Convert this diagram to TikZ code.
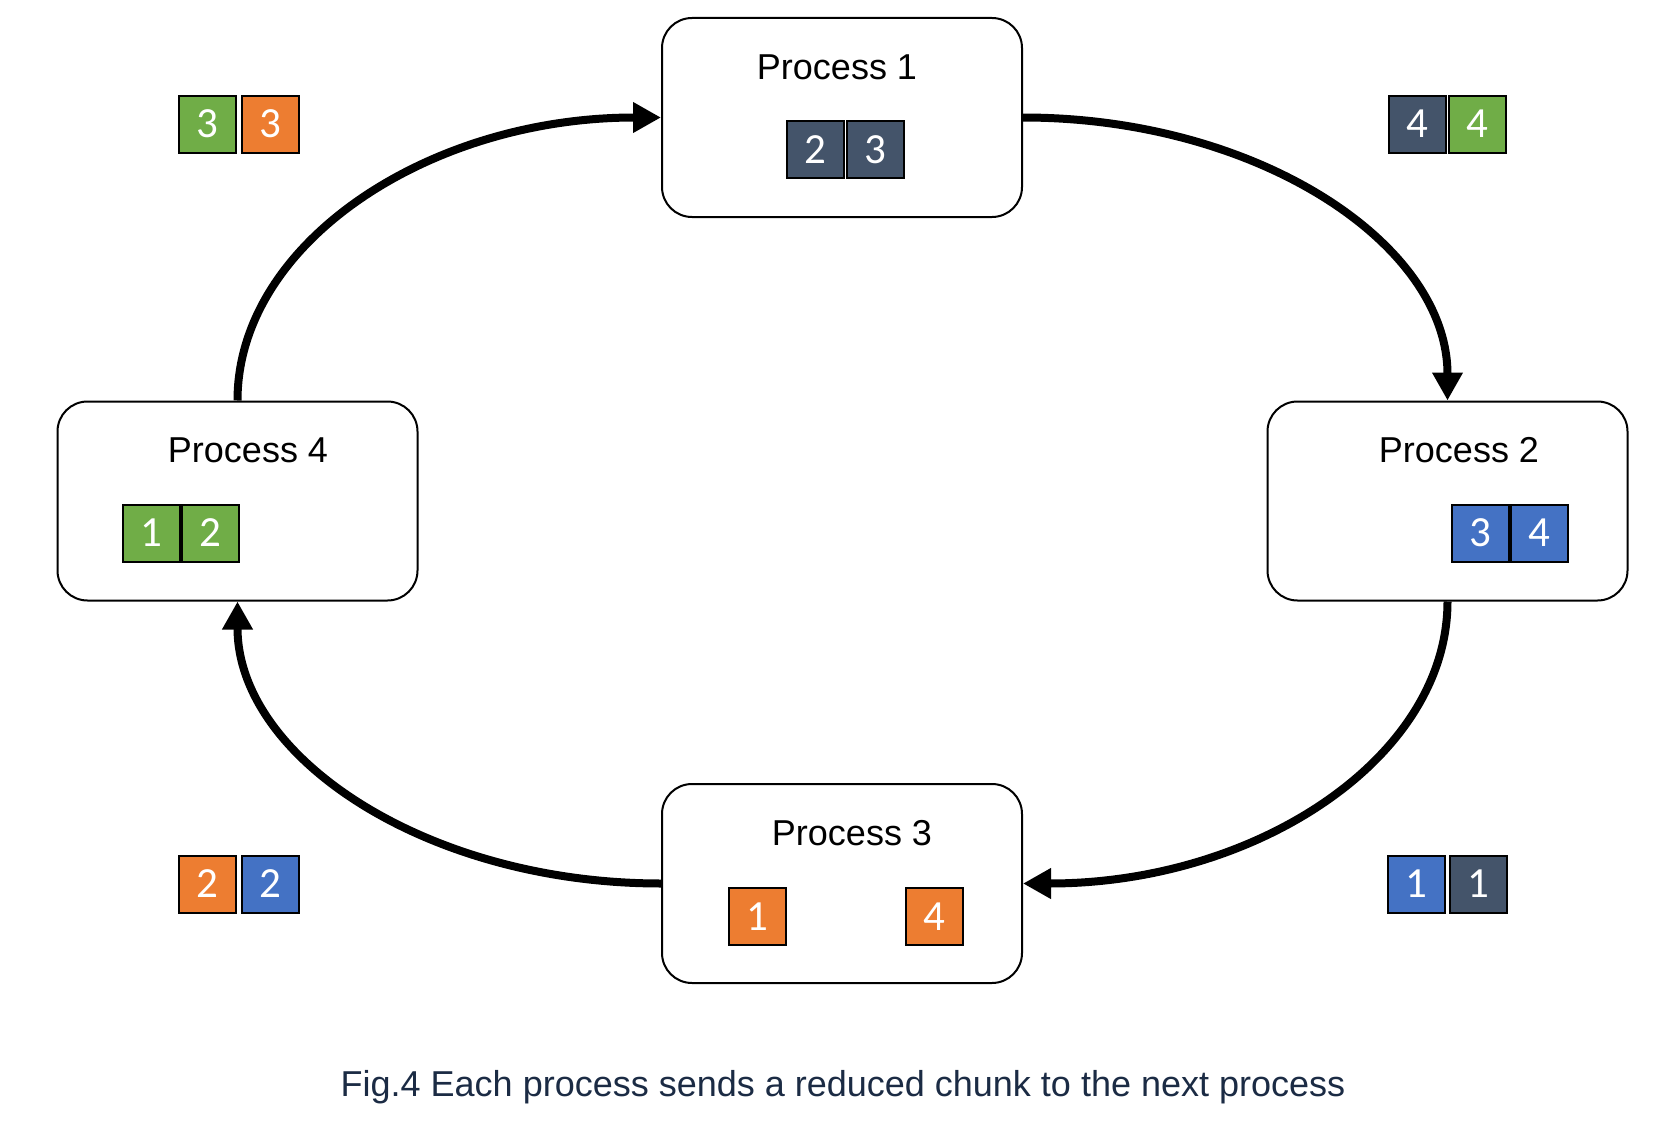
\documentclass[tikz,border=0pt]{standalone}
\usepackage{fontspec}
\setmainfont{Liberation Sans}
\newfontfamily\digitfont{Carlito}
\usetikzlibrary{arrows.meta}
\definecolor{slate}{HTML}{44546A}
\definecolor{cblue}{HTML}{4472C4}
\definecolor{corange}{HTML}{ED7D31}
\definecolor{cgreen}{HTML}{70AD47}
\definecolor{capcol}{HTML}{1B2B44}
\begin{document}
\begin{tikzpicture}[x=1pt,y=-1pt,
 procbox/.style={draw=black, line width=2pt, rounded corners=30pt, minimum width=360pt, minimum height=199pt, inner sep=0pt, fill=white},
 proctitle/.style={anchor=base, font=\fontsize{36}{40}\selectfont, inner sep=0pt},
 chunk/.style={draw=black, line width=2pt, minimum width=57pt, minimum height=57pt, inner sep=0pt, text=white, font=\digitfont\fontsize{43}{46}\selectfont},
 ring/.style={line width=8pt, -{Triangle[length=28pt,width=29pt]}},
]
\useasboundingbox (0,0) rectangle (1671,1124);
% process boxes
\node[procbox] (p1) at (842,117.5) {};
\node[procbox] (p2) at (1447.5,501) {};
\node[procbox] (p3) at (842,883.5) {};
\node[procbox] (p4) at (237.5,501) {};
% titles
\node[proctitle] (t1) at (837,79) {Process 1};
\node[proctitle] (t2) at (1459,462) {Process 2};
\node[proctitle] (t3) at (852,845) {Process 3};
\node[proctitle] (t4) at (248,462) {Process 4};
% chunks inside
\node[chunk, fill=slate] (c12) at (815.5,149.5) {2};
\node[chunk, fill=slate] (c13) at (875,149.5) {3};
\node[chunk, fill=cblue] (c23) at (1480.5,533) {3};
\node[chunk, fill=cblue] (c24) at (1539.5,533) {4};
\node[chunk, fill=corange] (c31) at (757,916.5) {1};
\node[chunk, fill=corange] (c34) at (934,916.5) {4};
\node[chunk, fill=cgreen] (c41) at (151.5,533) {1};
\node[chunk, fill=cgreen] (c42) at (210.5,533) {2};
% chunks in transit
\node[chunk, fill=cgreen] (tl1) at (207,124) {3};
\node[chunk, fill=corange] (tl2) at (270.5,124) {3};
\node[chunk, fill=slate] (tr1) at (1417.5,124) {4};
\node[chunk, fill=cgreen] (tr2) at (1477,124) {4};
\node[chunk, fill=corange] (bl1) at (207,884) {2};
\node[chunk, fill=cblue] (bl2) at (270.5,884) {2};
\node[chunk, fill=cblue] (br1) at (1416,884) {1};
\node[chunk, fill=slate] (br2) at (1478,884) {1};
% ring arrows
\draw[ring] (p4.north) .. controls +(0,-157) and +(-233,0) .. (p1.west);
\draw[ring] (p1.east) .. controls +(234,0) and +(0,-157) .. (p2.north);
\draw[ring] (p2.south) .. controls +(0,156) and +(234,0) .. (p3.east);
\draw[ring] (p3.west) .. controls +(-234,0) and +(0,156) .. (p4.south);
% caption
\node[anchor=base, inner sep=0pt, text=capcol, font=\fontsize{36}{40}\selectfont] (cap) at (843,1096) {Fig.4 Each process sends a reduced chunk to the next process};
\end{tikzpicture}
\end{document}
